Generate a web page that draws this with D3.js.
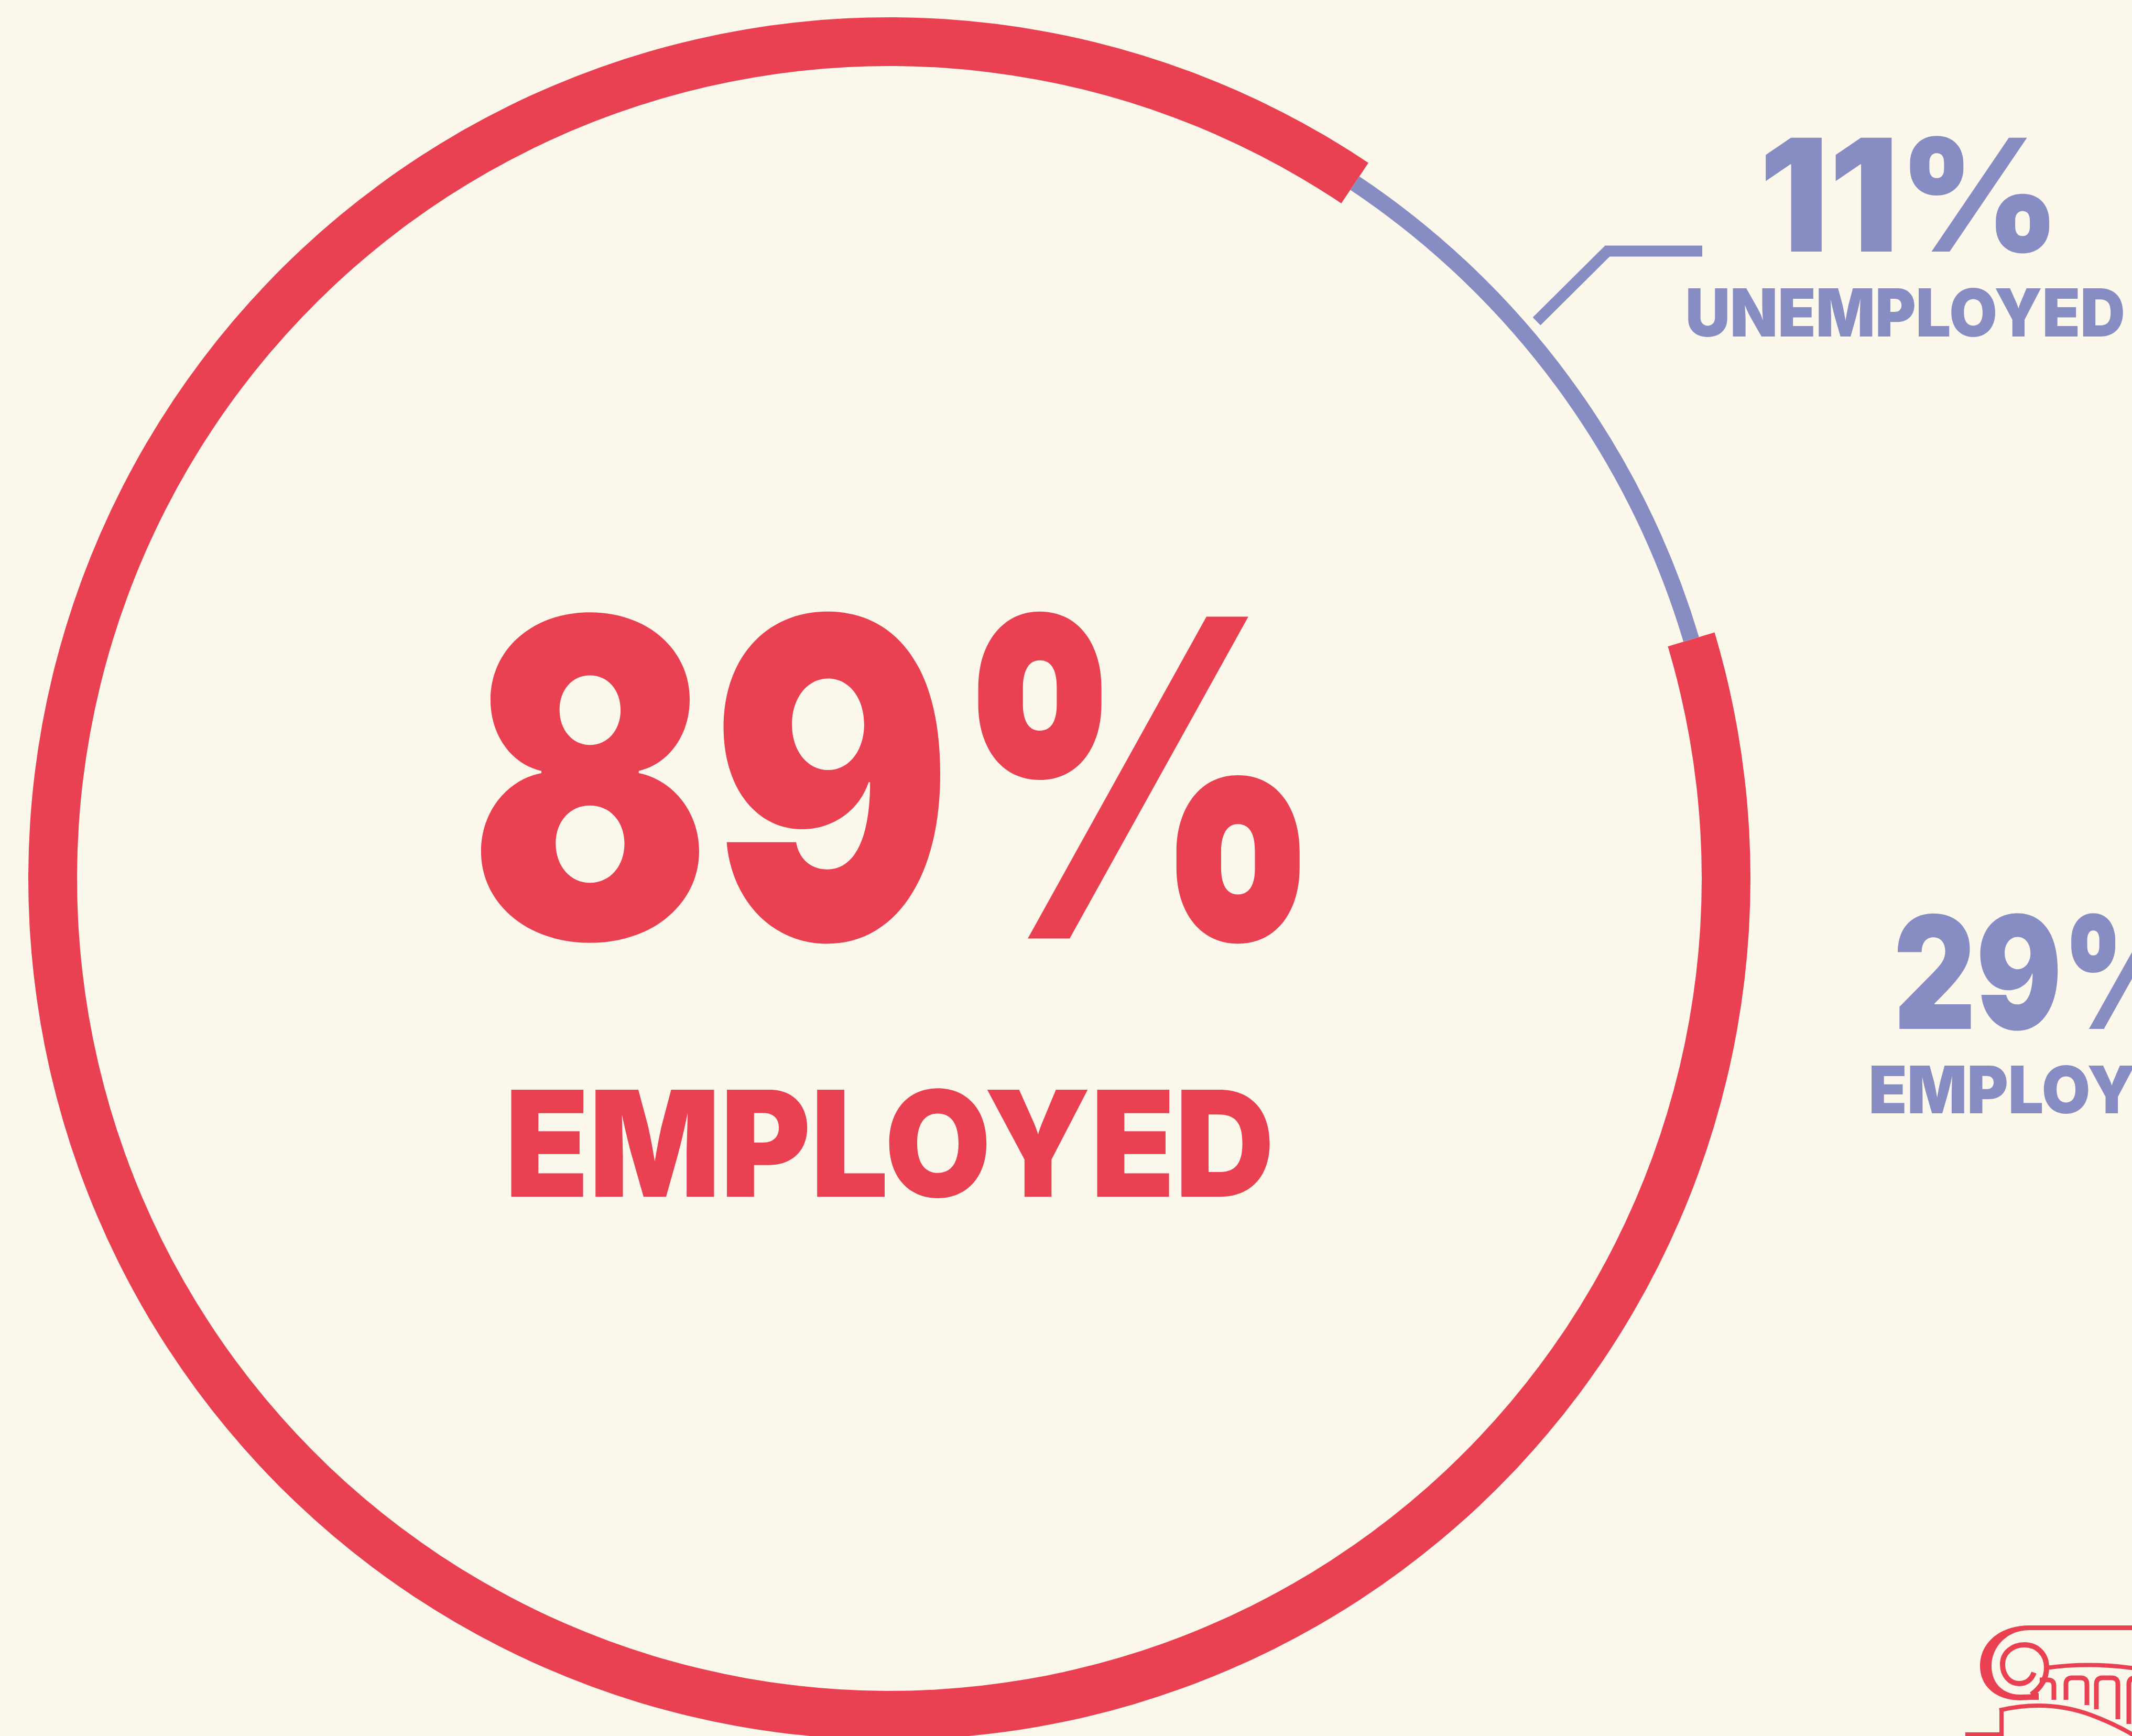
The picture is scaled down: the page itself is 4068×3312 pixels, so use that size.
<!DOCTYPE html>
<html lang="en">
<head>
<meta charset="utf-8">
<title>Employment ring</title>
<script src="https://cdn.jsdelivr.net/npm/d3@7"></script>
<style>
  html, body { margin: 0; padding: 0; background: #fdf8ec; }
  svg { display: block; }
</style>
</head>
<body>
<script>

// data
var categories = ["EMPLOYED", "UNEMPLOYED"];
var shares = [89, 11];
var sideShares = [29];
var sideLabels = ["EMPLOYED"];

var w = 4068, h = 3312;
var red = "#e94052", blue = "#878cc3", bg = "#fdf8ec";

var svg = d3.select("body").append("svg")
    .attr("width", w)
    .attr("height", h);

svg.append("rect").attr("width", w).attr("height", h).attr("fill", bg);

// ring
var cx = 1697, cy = 1676;
var start = 73.4 * Math.PI / 180;
var pie = d3.pie().sort(null).startAngle(start).endAngle(start + 2 * Math.PI);
var ringStyle = [
    {inner: 1550, outer: 1643, color: red},
    {inner: 1581, outer: 1612, color: blue}
];
var arc = d3.arc();

svg.append("g")
    .attr("transform", "translate(" + cx + "," + cy + ")")
    .selectAll("path")
    .data(pie(shares))
    .enter()
    .append("path")
    .attr("d", function(d, i) {
        return arc({innerRadius: ringStyle[i].inner, outerRadius: ringStyle[i].outer,
                    startAngle: d.startAngle, endAngle: d.endAngle});
    })
    .attr("fill", function(d, i) { return ringStyle[i].color; });

// leader for the small slice
svg.append("polyline")
    .attr("points", "2932,613 3067,479 3248,479")
    .attr("fill", "none")
    .attr("stroke", blue)
    .attr("stroke-width", 21)
    .attr("stroke-linejoin", "miter");

// text fitted to an ink box [x0, y0, x1, y1]
var ctx = document.createElement("canvas").getContext("2d");
function fitText(str, weight, family, box, color) {
    ctx.font = weight + " 200px " + family;
    var m = ctx.measureText(str);
    var inkH = m.actualBoundingBoxAscent + m.actualBoundingBoxDescent;
    var inkW = m.actualBoundingBoxLeft + m.actualBoundingBoxRight;
    var k = (box[3] - box[1]) / inkH;
    var sx = (box[2] - box[0]) / (inkW * k);
    svg.append("text")
        .attr("transform", "translate(" + box[0] + "," + (box[1] + m.actualBoundingBoxAscent * k) + ") scale(" + sx + ",1)")
        .attr("x", m.actualBoundingBoxLeft * k)
        .attr("font-family", family)
        .attr("font-weight", weight)
        .attr("font-size", 200 * k)
        .attr("fill", color)
        .text(str);
}

var numFont = "Inter", labFont = "Inter";

fitText(shares[0] + "%", 900, numFont, [915, 1166, 2482, 1799], red);
fitText(categories[0], 900, labFont, [975, 2077, 2423, 2286], red);

fitText(shares[1] + "%", 900, numFont, [3368, 259, 3911, 483], blue);
fitText(categories[1], 900, labFont, [3221, 549, 4051, 643], blue);

fitText(sideShares[0] + "%", 900, numFont, [3620, 1742, 4172, 1966], blue);
fitText(sideLabels[0], 900, labFont, [3571, 2032, 4231, 2125], blue);

// logo in the corner (ionic capital)
var logo = svg.append("g").attr("fill", "none").attr("stroke", red);

logo.append("path")
    .attr("d", "M3872,3101 C3815,3101 3778,3135 3778,3178 C3778,3220 3812,3244 3855,3244 L3890,3242 L3890,3232 L3855,3233 C3822,3233 3800,3212 3800,3178 C3800,3142 3830,3110 3872,3110 Z")
    .attr("fill", red).attr("stroke", "none");
logo.append("path").attr("d", "M3870,3105.5 L4080,3105.5").attr("stroke-width", 9);
logo.append("rect").attr("x", 3875).attr("y", 3230).attr("width", 15).attr("height", 13)
    .attr("fill", red).attr("stroke", "none");

logo.append("path")
    .attr("d", "M3881,3191 C3876,3205 3866,3212 3853,3212 C3834,3212 3821,3196 3821,3175 C3821,3153 3840,3138 3863,3138 C3888,3138 3905,3157 3905,3181 C3905,3202 3894,3220 3876,3233")
    .attr("stroke-width", 10);

logo.append("path").attr("d", "M3905,3182 Q3990,3170 4080,3184").attr("stroke-width", 8);

logo.append("path").attr("d", "M3892,3205 L3908,3205 Q3919,3205 3919,3216 L3919,3243").attr("stroke-width", 9);
var arches = [[3942, 3982, 3243, 3253], [4000, 4041, 3261, 3280], [4062, 4100, 3289, 3300]];
arches.forEach(function(a) {
    var top = 3201, r = 12;
    logo.append("path")
        .attr("d", "M" + a[0] + "," + a[2] + " L" + a[0] + "," + (top + r) + " Q" + a[0] + "," + top + " " + (a[0] + r) + "," + top +
              " L" + (a[1] - r) + "," + top + " Q" + a[1] + "," + top + " " + a[1] + "," + (top + r) + " L" + a[1] + "," + a[3])
        .attr("stroke-width", 9);
});

logo.append("path").attr("d", "M3815,3263 C3870,3250 3930,3250 3990,3272 C4030,3287 4055,3300 4080,3316").attr("stroke-width", 8);
logo.append("path").attr("d", "M3819,3261 L3819,3309 L3750,3309").attr("stroke-width", 8);

</script>
</body>
</html>
